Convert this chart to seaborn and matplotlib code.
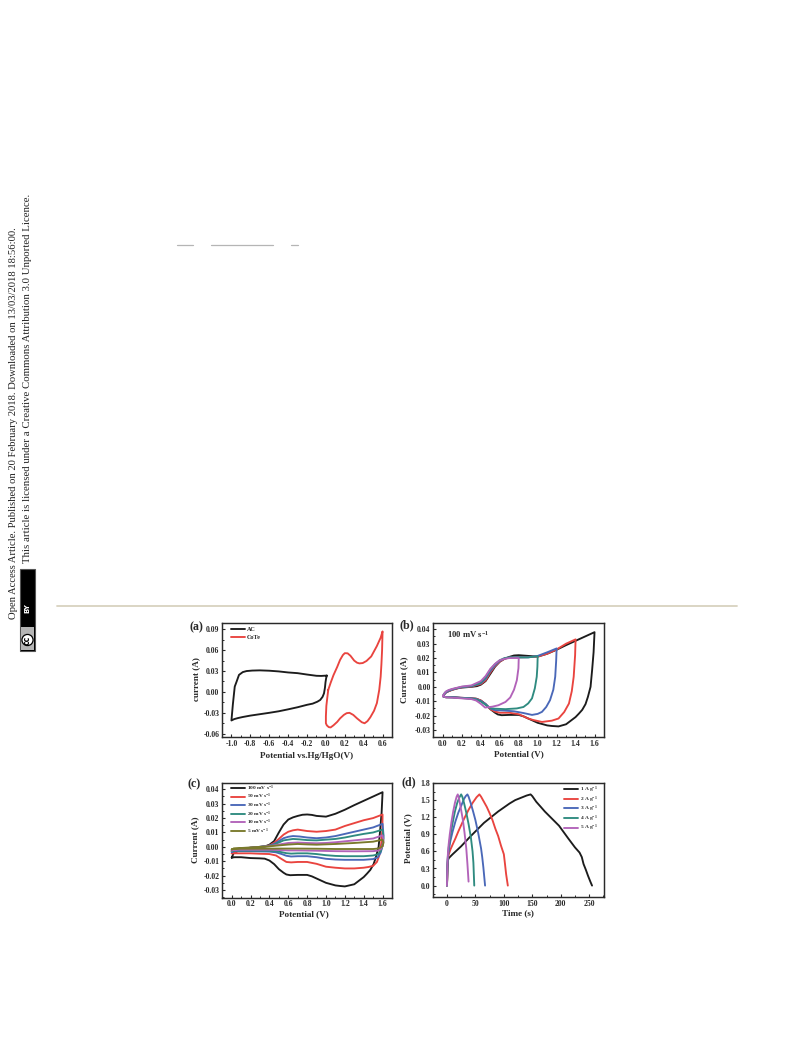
import matplotlib
matplotlib.use("Agg")
import matplotlib.pyplot as plt
from matplotlib.patches import Rectangle
from matplotlib.lines import Line2D
from matplotlib.ticker import MultipleLocator, AutoMinorLocator, FormatStrFormatter
import pandas as pd
import seaborn as sns

# ---- panel (a)
a_labels = ["AC", "CoTe"]
a_ac_x = [0.01,-0.05,-0.1,-0.2,-0.3,-0.4,-0.5,-0.6,-0.7,-0.78,-0.84,-0.88,-0.92,-0.945,-0.965,-0.975,-0.985,-1.0,-0.97,-0.93,-0.88,-0.8,-0.7,-0.6,-0.5,-0.4,-0.3,-0.2,-0.14,-0.09,-0.06,-0.035,-0.02,-0.01,-0.004,0.003,0.01]
a_ac_y = [0.0235,0.023,0.0232,0.025,0.027,0.028,0.0295,0.0305,0.031,0.0307,0.03,0.0285,0.0245,0.015,0.0077,-0.005,-0.018,-0.041,-0.039,-0.0375,-0.036,-0.034,-0.032,-0.030,-0.0278,-0.025,-0.022,-0.0185,-0.0168,-0.014,-0.0115,-0.007,-0.002,0.006,0.014,0.02,0.0235]
a_co_x = [0.025,0.05,0.08,0.12,0.15,0.18,0.2,0.23,0.26,0.3,0.33,0.355,0.39,0.43,0.48,0.54,0.58,0.6,0.595,0.588,0.58,0.565,0.54,0.51,0.47,0.44,0.41,0.38,0.33,0.29,0.25,0.22,0.19,0.15,0.12,0.08,0.05,0.03,0.01,0.0,0.0,0.005,0.015,0.025]
a_co_y = [0.003,0.013,0.024,0.036,0.046,0.053,0.0557,0.0555,0.052,0.045,0.042,0.041,0.0415,0.0445,0.051,0.066,0.078,0.087,0.06,0.04,0.022,0.003,-0.016,-0.027,-0.0365,-0.042,-0.045,-0.0435,-0.038,-0.033,-0.03,-0.0305,-0.033,-0.038,-0.043,-0.048,-0.051,-0.0505,-0.048,-0.045,-0.035,-0.02,-0.008,0.003]

# ---- panel (b)
b_16_x = [0,0.01,0.03,0.06,0.1,0.15,0.2,0.3,0.36,0.4,0.45,0.5,0.55,0.6,0.65,0.7,0.75,0.8,0.9,1.0,1.1,1.2,1.3,1.4,1.5,1.6,1.59,1.575,1.558,1.53,1.505,1.47,1.435,1.4,1.36,1.3,1.22,1.15,1.1,1.0,0.95,0.9,0.85,0.8,0.7,0.62,0.58,0.55,0.5,0.45,0.4,0.35,0.3,0.2,0.1,0.03,0]
b_16_y = [-0.0065,-0.0055,-0.004,-0.003,-0.002,-0.001,-0.0005,0,0.0005,0.0015,0.004,0.009,0.014,0.0175,0.0195,0.0208,0.0218,0.022,0.0215,0.021,0.023,0.0258,0.029,0.032,0.035,0.038,0.024,0.012,0,-0.007,-0.012,-0.016,-0.0186,-0.021,-0.023,-0.026,-0.0275,-0.0272,-0.0268,-0.025,-0.0235,-0.022,-0.0205,-0.0195,-0.0195,-0.0197,-0.0192,-0.018,-0.0155,-0.012,-0.0095,-0.0082,-0.008,-0.0078,-0.0072,-0.0072,-0.0065]
b_14_x = [0,0.01,0.03,0.06,0.1,0.2,0.3,0.4,0.45,0.5,0.55,0.6,0.65,0.7,0.8,0.9,1.0,1.1,1.2,1.3,1.4,1.395,1.38,1.36,1.33,1.28,1.22,1.15,1.045,0.95,0.9,0.8,0.7,0.6,0.55,0.5,0.45,0.4,0.35,0.3,0.1,0.03,0]
b_14_y = [-0.0065,-0.0055,-0.004,-0.003,-0.002,-0.0003,0.0002,0.002,0.0045,0.01,0.0145,0.0175,0.0195,0.0203,0.0205,0.0207,0.021,0.023,0.026,0.03,0.033,0.022,0.007,-0.003,-0.0116,-0.0175,-0.022,-0.0235,-0.0244,-0.023,-0.022,-0.019,-0.018,-0.018,-0.0172,-0.0155,-0.012,-0.0095,-0.0083,-0.008,-0.0072,-0.0072,-0.0065]
b_12_x = [0,0.01,0.03,0.06,0.1,0.2,0.3,0.4,0.45,0.5,0.55,0.6,0.65,0.7,0.8,0.9,1.0,1.1,1.2,1.195,1.185,1.165,1.13,1.09,1.045,1.0,0.94,0.85,0.75,0.65,0.55,0.5,0.45,0.4,0.35,0.3,0.1,0.03,0]
b_12_y = [-0.0065,-0.0055,-0.004,-0.0028,-0.0018,-0.0002,0.0004,0.0025,0.0055,0.011,0.015,0.018,0.0197,0.0203,0.0205,0.0205,0.0215,0.024,0.0267,0.018,0.007,-0.002,-0.0093,-0.014,-0.0174,-0.0188,-0.0195,-0.0182,-0.017,-0.0165,-0.0162,-0.015,-0.012,-0.0098,-0.0085,-0.008,-0.0072,-0.0072,-0.0065]
b_10_x = [0,0.01,0.03,0.06,0.1,0.2,0.3,0.4,0.45,0.5,0.55,0.6,0.65,0.7,0.8,0.9,1.0,0.997,0.99,0.97,0.94,0.9,0.85,0.78,0.66,0.55,0.5,0.45,0.4,0.35,0.3,0.1,0.03,0]
b_10_y = [-0.0065,-0.005,-0.0035,-0.0025,-0.0016,0,0.0006,0.003,0.0065,0.012,0.0158,0.0185,0.02,0.0205,0.0205,0.0205,0.0213,0.014,0.007,-0.001,-0.008,-0.0115,-0.014,-0.015,-0.0155,-0.0152,-0.0148,-0.0125,-0.0102,-0.0088,-0.0082,-0.0073,-0.0072,-0.0065]
b_08_x = [0,0.01,0.03,0.06,0.1,0.2,0.3,0.4,0.45,0.5,0.55,0.6,0.65,0.7,0.75,0.8,0.797,0.78,0.75,0.71,0.66,0.585,0.52,0.445,0.4,0.35,0.3,0.2,0.1,0.03,0]
b_08_y = [-0.0065,-0.005,-0.0033,-0.0022,-0.0014,0.0002,0.001,0.004,0.0075,0.0125,0.016,0.0185,0.0195,0.02,0.02,0.02,0.013,0.0046,-0.002,-0.0074,-0.0105,-0.0128,-0.0138,-0.0144,-0.0118,-0.0095,-0.0085,-0.008,-0.0075,-0.0072,-0.0065]

# ---- panel (c)
c_100_x = [0,0.02,0.06,0.1,0.2,0.3,0.36,0.4,0.45,0.5,0.55,0.6,0.65,0.7,0.75,0.8,0.85,0.9,1.0,1.1,1.2,1.3,1.4,1.5,1.6,1.59,1.575,1.558,1.53,1.505,1.47,1.435,1.4,1.36,1.3,1.2,1.15,1.1,1.0,0.95,0.9,0.85,0.8,0.7,0.62,0.58,0.55,0.5,0.45,0.4,0.35,0.3,0.2,0.1,0.03,0]
c_100_y = [-0.0075,-0.0045,-0.003,-0.002,-0.0005,0,0.0005,0.0015,0.004,0.01,0.0155,0.019,0.0205,0.0215,0.0223,0.0225,0.0222,0.0215,0.021,0.023,0.0258,0.029,0.032,0.035,0.038,0.024,0.012,0,-0.007,-0.012,-0.016,-0.0186,-0.021,-0.023,-0.026,-0.0275,-0.0272,-0.0268,-0.025,-0.0235,-0.022,-0.0205,-0.0195,-0.0195,-0.0197,-0.0192,-0.018,-0.0155,-0.012,-0.0095,-0.0082,-0.008,-0.0078,-0.0072,-0.0072,-0.0075]
c_50_x = [0,0.02,0.1,0.2,0.3,0.4,0.45,0.5,0.55,0.6,0.65,0.7,0.75,0.8,0.9,1.0,1.1,1.2,1.3,1.4,1.5,1.6,1.598,1.585,1.565,1.54,1.5,1.45,1.4,1.3,1.2,1.1,1.0,0.9,0.8,0.7,0.63,0.58,0.53,0.47,0.4,0.3,0.2,0.02,0]
c_50_y = [-0.0045,-0.0035,-0.0025,-0.0015,-0.0005,0.001,0.0028,0.0055,0.0085,0.0105,0.0115,0.012,0.0115,0.011,0.0105,0.011,0.012,0.0145,0.0165,0.0185,0.02,0.0225,0.012,0.002,-0.006,-0.0105,-0.0132,-0.014,-0.0145,-0.015,-0.015,-0.0145,-0.0138,-0.0118,-0.0105,-0.0105,-0.0108,-0.0105,-0.0085,-0.006,-0.005,-0.0048,-0.0045,-0.0045,-0.0045]
c_30_x = [0,0.02,0.1,0.2,0.3,0.4,0.45,0.5,0.55,0.6,0.65,0.72,0.8,0.9,1.0,1.1,1.2,1.3,1.4,1.5,1.6,1.61,1.6,1.58,1.55,1.5,1.4,1.3,1.2,1.1,1.0,0.9,0.8,0.7,0.63,0.58,0.53,0.47,0.4,0.2,0.02,0]
c_30_y = [-0.0035,-0.003,-0.002,-0.001,-0.0002,0.0008,0.002,0.004,0.006,0.007,0.0075,0.0072,0.0065,0.006,0.0065,0.0075,0.009,0.0105,0.012,0.0135,0.016,0.008,0.001,-0.004,-0.0072,-0.0085,-0.009,-0.009,-0.009,-0.0088,-0.0083,-0.0072,-0.0065,-0.0065,-0.0067,-0.0062,-0.005,-0.0038,-0.0033,-0.003,-0.003,-0.0035]
c_20_x = [0,0.02,0.1,0.2,0.3,0.4,0.45,0.5,0.55,0.6,0.65,0.72,0.8,0.9,1.0,1.1,1.2,1.3,1.4,1.5,1.6,1.61,1.6,1.58,1.55,1.5,1.4,1.3,1.2,1.1,1.0,0.9,0.8,0.7,0.63,0.58,0.53,0.47,0.4,0.2,0.02,0]
c_20_y = [-0.003,-0.0025,-0.0015,-0.0008,0,0.0008,0.0016,0.003,0.0045,0.005,0.0055,0.0052,0.0047,0.0045,0.005,0.0055,0.0065,0.0078,0.009,0.01,0.012,0.006,0.001,-0.003,-0.0052,-0.006,-0.0065,-0.0065,-0.0065,-0.0063,-0.0058,-0.005,-0.0045,-0.0045,-0.0047,-0.0044,-0.0037,-0.003,-0.0027,-0.0026,-0.0026,-0.003]
c_10_x = [0,0.02,0.1,0.2,0.3,0.4,0.5,0.6,0.7,0.8,0.9,1.0,1.1,1.3,1.5,1.6,1.61,1.6,1.58,1.55,1.5,1.3,1.1,0.9,0.7,0.6,0.5,0.4,0.2,0.02,0]
c_10_y = [-0.0025,-0.002,-0.0012,-0.0006,0,0.0006,0.0016,0.0027,0.003,0.0027,0.0025,0.0027,0.0032,0.0045,0.0058,0.008,0.004,0.0005,-0.0017,-0.0026,-0.003,-0.0031,-0.003,-0.0027,-0.0025,-0.0025,-0.0022,-0.002,-0.002,-0.002,-0.0025]
c_5_x = [0,0.02,0.1,0.2,0.3,0.4,0.5,0.6,0.7,0.8,0.9,1.1,1.3,1.5,1.6,1.61,1.6,1.58,1.55,1.5,1.3,1.1,0.9,0.7,0.5,0.2,0.02,0]
c_5_y = [-0.0018,-0.0012,-0.0008,-0.0004,0,0.0004,0.001,0.0016,0.002,0.0017,0.0015,0.002,0.0027,0.0036,0.005,0.003,0.0005,-0.0005,-0.0012,-0.0015,-0.0015,-0.0015,-0.0013,-0.0012,-0.0012,-0.0013,-0.0013,-0.0018]

# ---- panel (d)
d_1_t = [0,0.5,1,2,3,10,25,40,50,65,75,90,100,110,120,130,140,147,150,157,165,172,180,190,197,205,213,225,233,237,240,244,248,252,255]
d_1_v = [0,0.1,0.3,0.45,0.48,0.55,0.69,0.85,0.95,1.1,1.18,1.3,1.37,1.44,1.5,1.54,1.58,1.6,1.57,1.47,1.38,1.3,1.22,1.12,1.05,0.94,0.83,0.67,0.58,0.5,0.38,0.28,0.17,0.07,0]
d_2_t = [0,0.5,1,2,3,6,10,15,20,30,38,45,52,57,60,65,70,75,80,85,90,95,100,102,104,107]
d_2_v = [0,0.15,0.35,0.48,0.54,0.63,0.72,0.83,0.95,1.17,1.33,1.45,1.55,1.6,1.56,1.47,1.38,1.27,1.15,1.0,0.87,0.7,0.55,0.38,0.2,0]
d_3_t = [0,0.5,1,2,3,6,10,15,20,25,30,33,36,38,42,46,50,55,60,62,64,67]
d_3_v = [0,0.2,0.38,0.52,0.6,0.78,0.95,1.13,1.28,1.4,1.52,1.57,1.6,1.56,1.44,1.3,1.15,0.92,0.65,0.5,0.32,0]
d_4_t = [0,0.5,1,2,3,6,10,14,18,22,25,27,30,34,38,42,45,46.5,48]
d_4_v = [0,0.22,0.42,0.56,0.66,0.88,1.1,1.3,1.45,1.55,1.6,1.56,1.45,1.28,1.08,0.85,0.6,0.4,0]
d_5_t = [0,0.5,1,2,3,5,8,11,14,17,19,21,24,28,31,34,36,38]
d_5_v = [0,0.25,0.45,0.6,0.72,0.9,1.12,1.3,1.45,1.56,1.6,1.54,1.38,1.15,0.92,0.65,0.38,0.07]

BLACK, RED, BLUE, TEAL, PURPLE, OLIVE = "#1c1c1c", "#e9443f", "#4a68b8", "#2f8b80", "#b263b9", "#7a7a2c"
LAB = "#2a2a2a"

sns.set_theme(style="ticks")
plt.rcParams["font.family"] = ["Liberation Serif", "DejaVu Serif"]
plt.rcParams["font.weight"] = "bold"
plt.rcParams["axes.labelweight"] = "bold"
plt.rcParams["mathtext.fontset"] = "custom"
plt.rcParams["mathtext.rm"] = "Liberation Serif:bold"
plt.rcParams["mathtext.default"] = "rm"

W, H = 793, 1039
fig = plt.figure(figsize=(W / 100, H / 100), dpi=100, facecolor="white")


def axes_px(l, t, r, b):
    return fig.add_axes([l / W, 1 - b / H, (r - l) / W, (b - t) / H])


def curve(ax, xs, ys, color, lw=1.35):
    df = pd.DataFrame({"x": xs, "y": ys})
    sns.lineplot(data=df, x="x", y="y", sort=False, estimator=None, color=color,
                 linewidth=lw, ax=ax, legend=False, solid_joinstyle="round", solid_capstyle="round")


def style(ax, box, xlim, ylim, xmaj, ymaj, xlabel, ylabel, xl_px, yl_px, yfmt, xfmt="%.1f"):
    l, t, r, b = box
    ax.set_xlim(*xlim); ax.set_ylim(*ylim)
    ax.xaxis.set_major_locator(MultipleLocator(xmaj))
    ax.yaxis.set_major_locator(MultipleLocator(ymaj))
    ax.xaxis.set_minor_locator(AutoMinorLocator(2))
    ax.yaxis.set_minor_locator(AutoMinorLocator(2))
    ax.xaxis.set_major_formatter(FormatStrFormatter(xfmt))
    ax.yaxis.set_major_formatter(FormatStrFormatter(yfmt))
    ax.tick_params(which="major", direction="in", length=2.4, width=0.8, labelsize=5.6, pad=1.8, colors=LAB)
    ax.tick_params(which="minor", direction="in", length=1.4, width=0.7, colors=LAB)
    ax.set_xlabel(xlabel, fontsize=6.6, color=LAB, va="center")
    ax.set_ylabel(ylabel, fontsize=6.6, color=LAB, va="center")
    ax.xaxis.set_label_coords((xl_px[0] - l) / (r - l), (b - xl_px[1]) / (b - t))
    ax.yaxis.set_label_coords((yl_px[0] - l) / (r - l), (b - yl_px[1]) / (b - t))
    for s in ax.spines.values():
        s.set_linewidth(1.05); s.set_color(LAB); s.set_visible(True)
    for t_ in ax.get_xticklabels() + ax.get_yticklabels():
        t_.set_fontweight("bold")


def legend(ax, names, colors, size=3.9, **kw):
    hs = [Line2D([], [], color=c, lw=1.35) for c in colors]
    ax.legend(hs, names, frameon=False, prop={"size": size, "weight": "bold"}, handlelength=2.6 * 3.9 / size,
              handletextpad=0.4, borderpad=0, borderaxespad=0, **kw)


# (a)
box = (222, 623, 392, 737)
ax = axes_px(*box)
curve(ax, a_ac_x, a_ac_y, BLACK)
curve(ax, a_co_x, a_co_y, RED)
style(ax, box, (-1.10, 0.70), (-0.06474, 0.09905), 0.2, 0.03, "Potential vs.Hg/HgO(V)", "current (A)",
      (306.5, 755.7), (196, 679), "%.2f")
legend(ax, a_labels, [BLACK, RED], size=4.4, loc="upper left", bbox_to_anchor=(0.05, 0.97), labelspacing=0.55)

# (b)
box = (433, 623, 604, 737)
ax = axes_px(*box)
for xs, ys, c in [(b_16_x, b_16_y, BLACK), (b_14_x, b_14_y, RED), (b_12_x, b_12_y, BLUE),
                  (b_10_x, b_10_y, TEAL), (b_08_x, b_08_y, PURPLE)]:
    curve(ax, xs, ys, c)
style(ax, box, (-0.105, 1.7), (-0.03486, 0.04438), 0.2, 0.01, "Potential (V)", "Current (A)",
      (518.5, 754), (404, 680), "%.2f")
ax.text(0.08, 0.895, r"100 mV s$^{-1}$", transform=ax.transAxes, fontsize=6.2, va="center", color=LAB)

# (c)
c_labels = [r"100 mV s$^{-1}$", r"50 mV s$^{-1}$", r"30 mV s$^{-1}$", r"20 mV s$^{-1}$", r"10 mV s$^{-1}$", r"5 mV s$^{-1}$"]
c_colors = [BLACK, RED, BLUE, TEAL, PURPLE, OLIVE]
box = (222, 783, 392, 897.5)
ax = axes_px(*box)
for xs, ys, col in zip([c_100_x, c_50_x, c_30_x, c_20_x, c_10_x, c_5_x],
                       [c_100_y, c_50_y, c_30_y, c_20_y, c_10_y, c_5_y], c_colors):
    curve(ax, xs, ys, col)
style(ax, box, (-0.103, 1.70), (-0.0352, 0.04438), 0.2, 0.01, "Potential (V)", "Current (A)",
      (304, 914), (195, 840), "%.2f")
legend(ax, c_labels, c_colors, loc="upper left", bbox_to_anchor=(0.05, 0.995), labelspacing=-0.13)

# (d)
d_labels = [r"1 A g$^{-1}$", r"2 A g$^{-1}$", r"3 A g$^{-1}$", r"4 A g$^{-1}$", r"5 A g$^{-1}$"]
d_colors = [BLACK, RED, BLUE, TEAL, PURPLE]
box = (433, 783, 604, 897)
ax = axes_px(*box)
for xs, ys, col in zip([d_1_t, d_2_t, d_3_t, d_4_t, d_5_t], [d_1_v, d_2_v, d_3_v, d_4_v, d_5_v], d_colors):
    curve(ax, xs, ys, col)
style(ax, box, (-24.5, 276), (-0.2, 1.8), 50, 0.3, "Time (s)", "Potential (V)",
      (518, 913), (408, 838), "%.1f", xfmt="%d")
legend(ax, d_labels, d_colors, loc="upper right", bbox_to_anchor=(0.965, 0.985), labelspacing=-0.13)

# panel letters
for s, x, y in [("(a)", 189, 627), ("(b)", 399, 625), ("(c)", 188, 784), ("(d)", 402, 782)]:
    fig.text(x / W, 1 - y / H, s, fontsize=8.6, ha="left", va="center", color=LAB)

# page furniture
fig.add_artist(Line2D([57 / W, 737 / W], [1 - 606 / H] * 2, color="#d8d2bf", lw=1.3))
for x0, x1 in [(177, 193), (211, 273), (291, 298)]:
    fig.add_artist(Line2D([x0 / W, x1 / W], [1 - 245 / H] * 2, color="#b5b5b5", lw=0.9))
fig.text(14 / W, 1 - 619 / H, "Open Access Article. Published on 20 February 2018. Downloaded on 13/03/2018 18:56:00.",
         rotation=90, fontsize=7.7, fontweight="normal", ha="center", va="bottom", color="#222222")
fig.text(28 / W, 1 - 563 / H, "This article is licensed under a Creative Commons Attribution 3.0 Unported Licence.",
         rotation=90, fontsize=7.75, fontweight="normal", ha="center", va="bottom", color="#222222")
fig.add_artist(Rectangle((20 / W, 1 - 651 / H), 15 / W, 82 / H, transform=fig.transFigure,
                         facecolor="black", edgecolor="#555555", lw=0.8))
fig.add_artist(Rectangle((21 / W, 1 - 650 / H), 13 / W, 23 / H, transform=fig.transFigure,
                         facecolor="#b5b5b5", edgecolor="none"))
fig.text(27.5 / W, 1 - 640 / H, "cc", rotation=90, fontsize=5.6, family="DejaVu Sans", fontweight="bold",
         ha="center", va="center", color="black",
         bbox=dict(boxstyle="circle,pad=0.12", fc="white", ec="black", lw=0.9))
fig.text(27.5 / W, 1 - 608 / H, "BY", rotation=90, fontsize=5, family="DejaVu Sans", fontweight="bold",
         ha="center", va="center", color="white")

fig.savefig("out.png", dpi=100, facecolor="white")
